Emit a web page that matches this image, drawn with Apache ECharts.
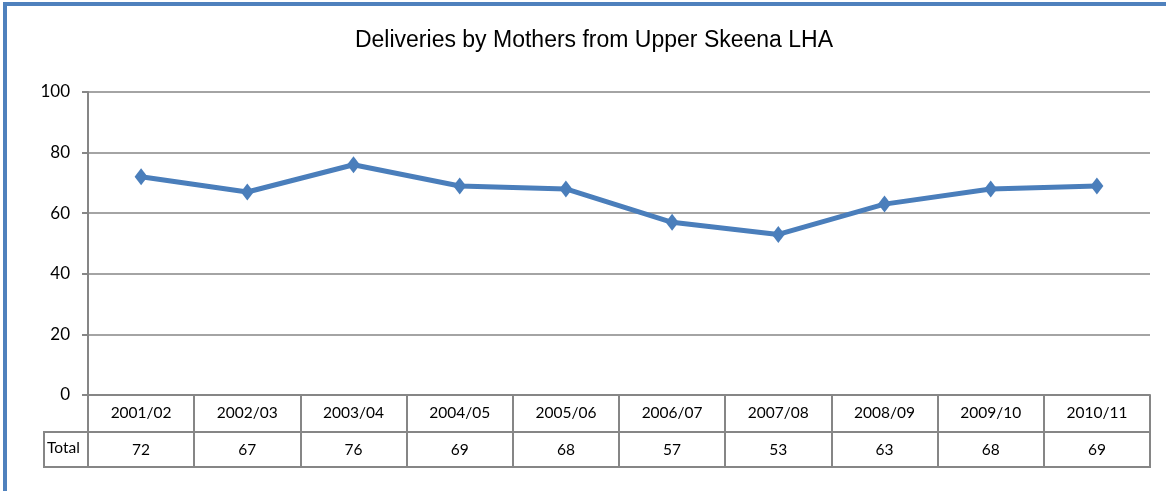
<!DOCTYPE html>
<html>
<head>
<meta charset="utf-8">
<script src="https://cdn.jsdelivr.net/npm/echarts@6/dist/echarts.min.js"></script>
<style>
    html, body { margin: 0; padding: 0; background: #fff; }
    #main { width: 1166px; height: 491px; }
</style>
</head>
<body>
<div id="main"></div>
<script>
    var categories = ['2001/02', '2002/03', '2003/04', '2004/05', '2005/06', '2006/07', '2007/08', '2008/09', '2009/10', '2010/11'];
    var totals = [72, 67, 76, 69, 68, 57, 53, 63, 68, 69];
    var yTicks = [0, 20, 40, 60, 80, 100];

    var gray = '#868686';
    var labelFont = 'Lato, "Open Sans", sans-serif';

    var myChart = echarts.init(document.getElementById('main'));
    var option = {
        backgroundColor: '#fff',
        animation: false,
        title: {
            text: 'Deliveries by Mothers from Upper Skeena LHA',
            left: 589,
            textAlign: 'center',
            top: 24,
            textStyle: {
                fontFamily: '"Liberation Sans Narrow", "Liberation Sans", sans-serif',
                fontWeight: 'normal',
                fontSize: 23,
                color: '#000'
            }
        },
        grid: {
            left: 88,
            right: 16,
            top: 92,
            bottom: 96
        },
        xAxis: [
            {
                type: 'category',
                data: categories,
                position: 'bottom',
                axisLine: { show: true, lineStyle: { color: gray, width: 2 } },
                axisTick: { show: true, length: 72, lineStyle: { color: gray, width: 2 } },
                axisLabel: { margin: 10, color: '#000', fontSize: 15.5, fontFamily: labelFont },
                splitLine: { show: false }
            },
            {
                type: 'category',
                data: categories,
                position: 'bottom',
                offset: 37,
                axisLine: { show: false },
                axisTick: { show: false },
                axisLabel: {
                    margin: 10,
                    color: '#000',
                    fontSize: 15.5,
                    fontFamily: labelFont,
                    formatter: function (v, i) { return String(totals[i]); }
                }
            }
        ],
        yAxis: {
            type: 'value',
            min: yTicks[0],
            max: yTicks[yTicks.length - 1],
            interval: 20,
            axisLine: { show: true, lineStyle: { color: gray, width: 2 } },
            axisTick: { show: true, length: 6, lineStyle: { color: gray, width: 2 } },
            axisLabel: { margin: 18, color: '#000', fontSize: 17, fontFamily: labelFont },
            splitLine: { show: true, lineStyle: { color: gray, width: 1.5 } }
        },
        series: [
            {
                name: 'Total',
                type: 'line',
                data: totals,
                symbol: 'diamond',
                symbolSize: [13, 17],
                lineStyle: { color: '#4A7EBB', width: 5 },
                itemStyle: { color: '#4A7EBB' }
            }
        ],
        graphic: [
            {
                type: 'rect',
                shape: { x: 5, y: 4, width: 1300, height: 600 },
                style: { fill: 'none', stroke: '#4F81BD', lineWidth: 4 },
                silent: true
            },
            {
                type: 'rect',
                shape: { x: 44, y: 432, width: 1106, height: 35 },
                style: { fill: 'none', stroke: gray, lineWidth: 2 },
                silent: true
            },
            {
                type: 'line',
                shape: { x1: 44, y1: 432, x2: 88, y2: 432 },
                style: { stroke: gray, lineWidth: 2 },
                silent: true
            },
            {
                type: 'text',
                left: 47,
                top: 440,
                style: { text: 'Total', fill: '#000', fontSize: 15.5, fontFamily: labelFont }
            }
        ]
    };
    option && myChart.setOption(option);
</script>
</body>
</html>
